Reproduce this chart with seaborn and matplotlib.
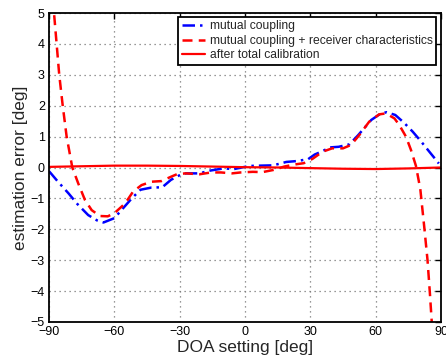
import numpy as np
import pandas as pd
import matplotlib
matplotlib.use("Agg")
import matplotlib.pyplot as plt
import seaborn as sns

# ---- data ----
mc_x = [-90, -89, -86, -81, -77, -72, -68, -65, -60, -57, -52, -48, -43, -38, -34, -29, -27,
        -21, -16, -10, -5, 2, 7, 13, 19, 24, 29, 32, 35, 39, 43, 48, 52, 58, 62, 65, 69, 73,
        77, 81, 85, 88, 89]
mc_y = [-0.12, -0.2, -0.45, -0.84, -1.18, -1.54, -1.71, -1.78, -1.64, -1.40, -1.0, -0.72,
        -0.65, -0.64, -0.40, -0.21, -0.19, -0.19, -0.1, -0.03, -0.05, 0.05, 0.06, 0.07, 0.18,
        0.21, 0.27, 0.42, 0.51, 0.65, 0.67, 0.75, 1.05, 1.54, 1.73, 1.79, 1.70, 1.45, 1.16,
        0.83, 0.48, 0.22, 0.13]

rc_x = [-90, -87.7, -86.5, -85.3, -83.7, -81.9, -80.6, -79.3, -76.6, -73.5, -70.4, -66.6,
        -63, -60, -55, -51.4, -47.5, -43, -38.4, -34, -31, -27, -21, -15.5, -11, -6, -2, 3.6,
        8, 13, 18, 23, 27, 31, 35.6, 40, 45, 48.7, 52.5, 57, 61.6, 64.7, 68.6, 70.8, 73.9,
        76.2, 78.5, 80.5, 82.3, 83.8, 84.9, 85.7, 86.5]
rc_y = [6.8, 5.0, 4.0, 3.0, 2.0, 1.0, 0.5, 0.0, -0.51, -1.05, -1.38, -1.57, -1.58, -1.48,
        -1.16, -0.78, -0.57, -0.46, -0.44, -0.30, -0.21, -0.19, -0.22, -0.16, -0.16, -0.19,
        -0.16, -0.14, -0.15, -0.08, 0.03, 0.10, 0.14, 0.28, 0.51, 0.62, 0.62, 0.73, 1.05,
        1.48, 1.72, 1.75, 1.59, 1.38, 1.0, 0.57, 0.05, -0.7, -1.92, -2.99, -4.07, -4.94, -6.0]

cal_x = [-90, -75, -60, -45, -30, -15, 0, 15, 30, 45, 60, 75, 90]
cal_y = [0.02, 0.04, 0.06, 0.06, 0.05, 0.03, 0.01, 0.0, -0.02, -0.04, -0.05, -0.03, 0.0]

labels = ["mutual coupling", "mutual coupling + receiver characteristics",
          "after total calibration"]
x_ticks = [-90, -60, -30, 0, 30, 60, 90]
y_ticks = [-5, -4, -3, -2, -1, 0, 1, 2, 3, 4, 5]

# ---- style ----
sns.set_theme(style="white", rc={"axes.facecolor": "white", "figure.facecolor": "white"})
plt.rcParams['font.family'] = ['Liberation Sans', 'DejaVu Sans']

fig = plt.figure(figsize=(4.46, 3.56), dpi=100, facecolor="white")
ax = fig.add_axes([49 / 446, 1 - 322 / 356, (441 - 49) / 446, (322 - 13) / 356])
ax.set_facecolor("white")

df_mc = pd.DataFrame({"x": mc_x, "y": mc_y})
df_rc = pd.DataFrame({"x": rc_x, "y": rc_y})
df_cal = pd.DataFrame({"x": cal_x, "y": cal_y})

sns.lineplot(data=df_mc, x="x", y="y", ax=ax, color="#0000ff", lw=1.8,
             linestyle=(0, (5, 2, 1, 2)), estimator=None, label=labels[0])
sns.lineplot(data=df_rc, x="x", y="y", ax=ax, color="#ff0000", lw=1.8,
             linestyle=(0, (4, 2.5)), estimator=None, label=labels[1])
sns.lineplot(data=df_cal, x="x", y="y", ax=ax, color="#ff0000", lw=1.6,
             linestyle="-", estimator=None, label=labels[2])

ax.set_xlim(-90, 90)
ax.set_ylim(-5, 5)
ax.set_xticks(x_ticks)
ax.set_yticks(y_ticks)
ax.grid(True, linestyle=(0, (1, 3)), color="#777777", lw=0.9)
ax.tick_params(direction="in", length=4, width=1, top=True, right=True,
               labelsize=9, colors="black", pad=3)
for s in ax.spines.values():
    s.set_color("black")
    s.set_linewidth(1.3)
    s.set_visible(True)

ax.set_xlabel("DOA setting [deg]", fontsize=12.5, labelpad=1)
ax.set_ylabel("estimation error [deg]", fontsize=12.5, labelpad=2)

leg = ax.legend(loc="upper right", bbox_to_anchor=(0.988, 0.988), borderaxespad=0,
                fontsize=8.7, frameon=True, fancybox=False, framealpha=1,
                facecolor="white", edgecolor="black", handlelength=1.9,
                handletextpad=0.4, labelspacing=0.2, borderpad=0.3)
leg.get_frame().set_linewidth(1.3)

fig.savefig("out.png", dpi=100, facecolor="white")
